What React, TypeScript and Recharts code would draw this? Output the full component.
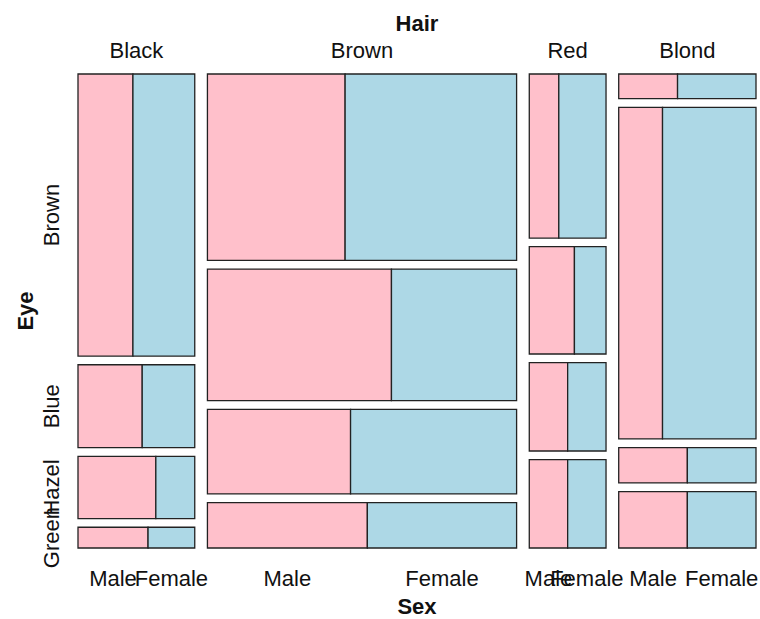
import { ComposedChart, XAxis, YAxis, ReferenceArea, Label, Scatter } from 'recharts'

// HairEyeColor counts, rows = eye colour, cols = hair colour
const hair = ['Black', 'Brown', 'Red', 'Blond']
const eye = ['Brown', 'Blue', 'Hazel', 'Green']
const sex = ['Male', 'Female']
const maleCounts = [
  [32, 53, 10, 3],
  [11, 50, 10, 30],
  [10, 25, 7, 5],
  [3, 15, 7, 8],
]
const femaleCounts = [
  [36, 66, 16, 4],
  [9, 34, 7, 64],
  [5, 29, 7, 5],
  [2, 14, 7, 8],
]

const SEX_COLORS = ['#FFC0CB', '#ADD8E6']
const GX = 0.0187
const GY = 0.0183
const FONT = 'Liberation Sans, Arial, sans-serif'

const colTotals = hair.map((_, h) => eye.reduce((s, _e, e) => s + maleCounts[e][h] + femaleCounts[e][h], 0))
const grand = colTotals.reduce((a, b) => a + b, 0)

const cols: any[] = []
const tiles: any[] = []
let cx = 0
hair.forEach((name, h) => {
  const w = ((1 - 3 * GX) * colTotals[h]) / grand
  const col = { name, x0: cx, x1: cx + w, rows: [] as any[] }
  let cy = 0
  eye.forEach((eName, e) => {
    const m = maleCounts[e][h]
    const f = femaleCounts[e][h]
    const ht = ((1 - 3 * GY) * (m + f)) / colTotals[h]
    const split = cx + (w * m) / (m + f)
    col.rows.push({ eye: eName, y0: cy, y1: cy + ht, split })
    tiles.push({ key: `${name}-${eName}-m`, x1: cx, x2: split, y1: cy, y2: cy + ht, fill: SEX_COLORS[0] })
    tiles.push({ key: `${name}-${eName}-f`, x1: split, x2: cx + w, y1: cy, y2: cy + ht, fill: SEX_COLORS[1] })
    cy += ht + GY
  })
  cols.push(col)
  cx += w + GX
})
tiles.forEach((t) => {
  t.cx = (t.x1 + t.x2) / 2
  t.cy = (t.y1 + t.y2) / 2
})

const hairTicks = cols.map((c) => ({ value: (c.x0 + c.x1) / 2, label: c.name }))
const eyeTicks = cols[0].rows.map((r: any) => ({ value: (r.y0 + r.y1) / 2, label: r.eye }))
const sexTicks: any[] = []
cols.forEach((c) => {
  const last = c.rows[c.rows.length - 1]
  sexTicks.push({ value: (c.x0 + last.split) / 2, label: sex[0] })
  sexTicks.push({ value: (last.split + c.x1) / 2, label: sex[1] })
})

function lookup(list: any[], v: number) {
  let best = list[0]
  list.forEach((t) => {
    if (Math.abs(t.value - v) < Math.abs(best.value - v)) best = t
  })
  return best.label
}

const textStyle = { fontFamily: FONT, fontSize: 22, fill: '#111' }
const noShape = () => <g />

export default function App() {
  return (
    <div style={{ position: 'absolute', left: 0, top: 0, background: '#fff' }}>
      <ComposedChart width={760} height={619} data={tiles} margin={{ top: 44, right: 4, bottom: 41, left: 38 }}>
        <XAxis
          xAxisId="top"
          orientation="top"
          type="number"
          dataKey="cx"
          domain={[0, 1]}
          allowDataOverflow
          ticks={hairTicks.map((t) => t.value)}
          interval={0}
          axisLine={false}
          tickLine={false}
          height={30}
          tick={(p: any) => (
            <text x={p.x} y={58} textAnchor="middle" style={textStyle}>
              {lookup(hairTicks, p.payload.value)}
            </text>
          )}
        >
          <Label
            content={(p: any) => (
              <text x={p.viewBox.x + p.viewBox.width / 2} y={31} textAnchor="middle" style={{ ...textStyle, fontWeight: 'bold' }}>
                Hair
              </text>
            )}
          />
        </XAxis>
        <XAxis
          xAxisId="bottom"
          orientation="bottom"
          type="number"
          dataKey="cx"
          domain={[0, 1]}
          allowDataOverflow
          ticks={sexTicks.map((t) => t.value)}
          interval={0}
          axisLine={false}
          tickLine={false}
          height={30}
          tick={(p: any) => (
            <text x={p.x} y={586} textAnchor="middle" style={textStyle}>
              {lookup(sexTicks, p.payload.value)}
            </text>
          )}
        >
          <Label
            content={(p: any) => (
              <text x={p.viewBox.x + p.viewBox.width / 2} y={614} textAnchor="middle" style={{ ...textStyle, fontWeight: 'bold' }}>
                Sex
              </text>
            )}
          />
        </XAxis>
        <YAxis
          type="number"
          dataKey="cy"
          domain={[0, 1]}
          allowDataOverflow
          reversed
          ticks={eyeTicks.map((t: any) => t.value)}
          interval={0}
          axisLine={false}
          tickLine={false}
          width={40}
          tick={(p: any) => (
            <text x={59} y={p.y} transform={`rotate(-90, 59, ${p.y})`} textAnchor="middle" style={textStyle}>
              {lookup(eyeTicks, p.payload.value)}
            </text>
          )}
        >
          <Label
            content={(p: any) => {
              const cy = p.viewBox.y + p.viewBox.height / 2
              return (
                <text x={33} y={cy} transform={`rotate(-90, 33, ${cy})`} textAnchor="middle" style={{ ...textStyle, fontWeight: 'bold' }}>
                  Eye
                </text>
              )
            }}
          />
        </YAxis>
        <Scatter xAxisId="top" dataKey="cy" data={tiles} shape={noShape} isAnimationActive={false} />
        <Scatter xAxisId="bottom" dataKey="cy" data={tiles} shape={noShape} isAnimationActive={false} />
        {tiles.map((t) => (
          <ReferenceArea
            key={t.key}
            xAxisId="bottom"
            x1={t.x1}
            x2={t.x2}
            y1={t.y1}
            y2={t.y2}
            fill={t.fill}
            fillOpacity={1}
            stroke="#222"
            strokeWidth={1.3}
            ifOverflow="visible"
          />
        ))}
      </ComposedChart>
    </div>
  )
}
